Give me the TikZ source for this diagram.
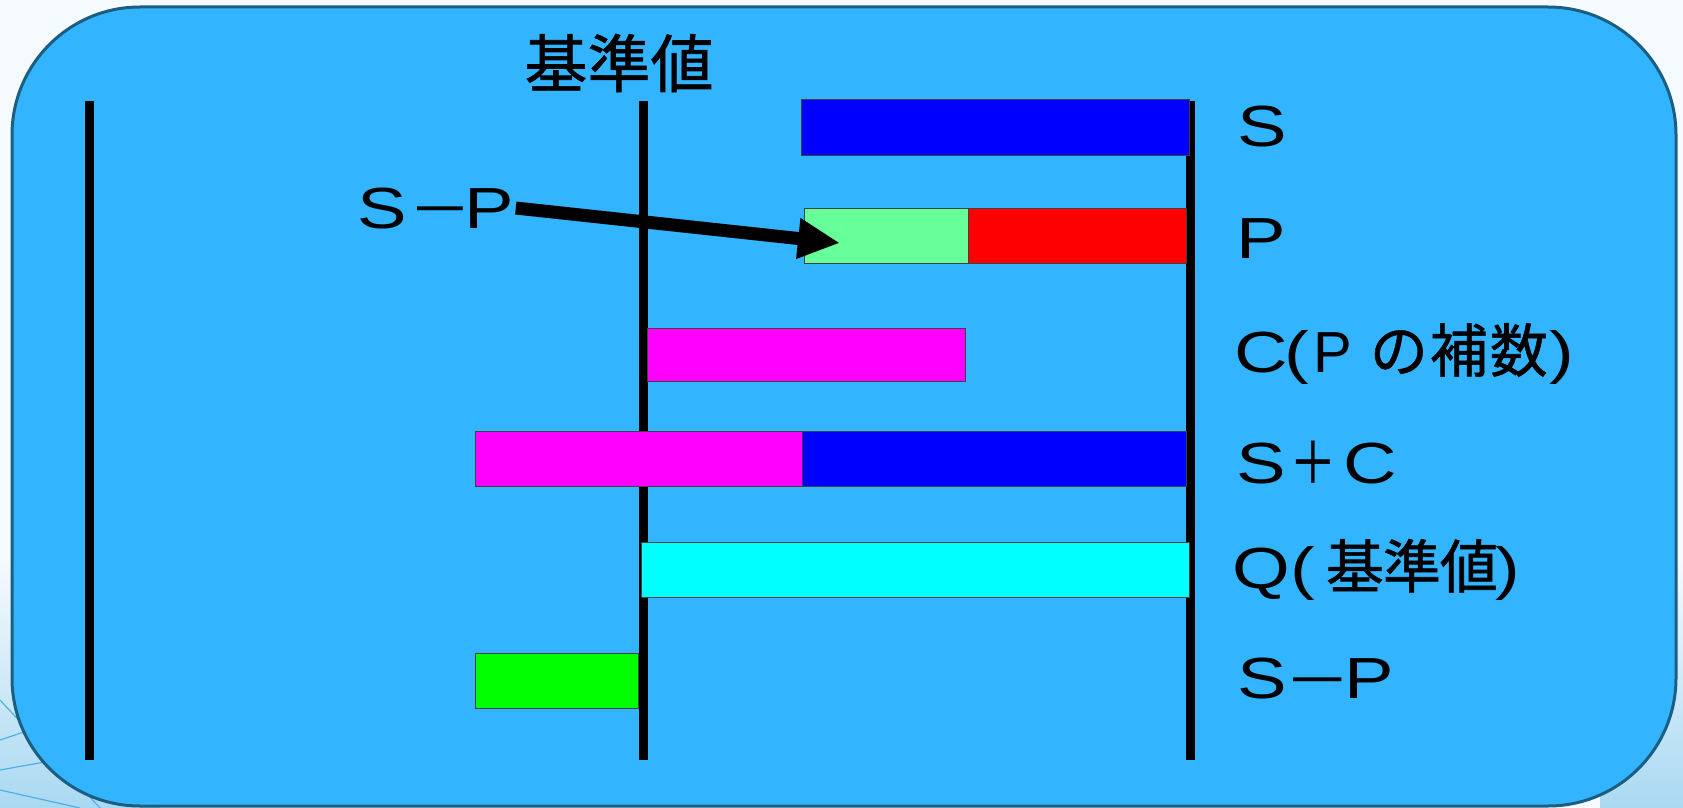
\documentclass[tikz,border=0pt]{standalone}
\usepackage{fontspec}
\newfontfamily\jp[FakeBold=1]{Noto Sans CJK JP}
\newfontfamily\lat[FakeStretch=1.28]{Liberation Sans}
\newfontfamily\latn{Liberation Sans}
\usetikzlibrary{arrows.meta}
\definecolor{bgwhite}{HTML}{F5FAFE}
\definecolor{bglight}{HTML}{A9D9F2}
\definecolor{bgline}{HTML}{4FB0E6}
\definecolor{panel}{HTML}{33B4FF}
\definecolor{panelborder}{HTML}{1A5F82}
\definecolor{sblue}{HTML}{0000FF}
\definecolor{pgreen}{HTML}{66FF99}
\definecolor{pred}{HTML}{FF0000}
\definecolor{cmag}{HTML}{FF00FF}
\definecolor{qcyan}{HTML}{00FFFF}
\definecolor{spgreen}{HTML}{00FF00}
% centred cell of given width (pt)
\newcommand\gcell[2]{\makebox[#1pt][c]{#2}}
\newcommand\pls{\scalebox{0.8}[0.98]{\jp ＋}}
\newcommand\mns[1]{\raisebox{2pt}{\scalebox{#1}[1]{\latn –}}}
\begin{document}
\begin{tikzpicture}[x=0.5pt,y=-0.5pt,
  vline/.style={line width=4.5pt},
  bar/.style={draw=black!75, line width=0.5pt},
  lbl/.style={font=\lat\fontsize{29}{34}\selectfont, anchor=base west, inner sep=0pt},
  ttl/.style={font=\jp\fontsize{31.5}{36}\selectfont, inner sep=0pt},
  bigarrow/.style={line width=6.5pt, -{Triangle[length=21pt,width=19pt]}}
]
\useasboundingbox (0,0) rectangle (1683,808);
\fill[bgwhite] (0,0) rectangle (1683,808);
% decorative corners
\shade[top color=bgwhite, bottom color=bglight] (0,560) rectangle (160,808);
\shade[top color=bgwhite, bottom color=bglight] (1600,560) rectangle (1683,808);
\draw[bgline, line width=0.6pt] (0,740) -- (120,700);
\draw[bgline, line width=0.6pt] (0,770) -- (140,745);
\draw[bgline, line width=0.6pt] (0,790) -- (80,808);
\draw[bgline, line width=0.6pt] (0,700) -- (100,808);
% panel
\draw[panelborder, line width=1.5pt, fill=panel, rounded corners=64pt] (12,7) rectangle (1676,806);
% vertical lines
\draw[vline] (89.5,101) -- (89.5,760);
\draw[vline] (643,101) -- (643,760);
\draw[vline] (1190,101) -- (1190,760);
% bars
\path[bar, fill=sblue] (801,100) rectangle (1189,156);
\path[bar, fill=pgreen] (804,209) rectangle (968,263);
\path[bar, fill=pred] (968,209) rectangle (1186,263);
\path[bar, fill=cmag] (647,328) rectangle (965,381);
\path[bar, fill=cmag] (475,431) rectangle (802,486);
\path[bar, fill=sblue] (802,431) rectangle (1186,486);
\path[bar, fill=qcyan] (641,542) rectangle (1189,597);
\path[bar, fill=spgreen] (475,653) rectangle (638,708);
% texts
\node[ttl] (title) at (619,63) {基準値};
\node[lbl] (ls) at (1236,147) {\gcell{25.5}{S}};
\node[lbl] (lp) at (1236,258) {\gcell{25}{P}};
\node[lbl] (lc) at (1236,372) {\gcell{24.5}{C}\gcell{11}{(}\gcell{25}{\latn P}\hspace{5.75pt}{\jp\gcell{30}{の}\gcell{30}{補}\gcell{30}{数}}\hspace{0.5pt})};
\node[lbl] (lsc) at (1236,483) {\gcell{24.5}{S}\gcell{27.5}{\pls}\gcell{29.5}{C}};
\node[lbl] (lq) at (1236,588) {\gcell{24.5}{Q}\gcell{17}{(}\hspace{3.5pt}{\jp\gcell{28.5}{基}\gcell{28.5}{準}\gcell{28.5}{値}}\gcell{10.5}{)}};
\node[lbl] (lsp) at (1236,698) {\gcell{25.5}{S}\gcell{30.5}{\mns{1.5}}\gcell{20.5}{P}};
\node[lbl] (spl) at (356,228) {\gcell{26}{S}\gcell{32}{\mns{1.42}}\gcell{16.5}{P}\kern5pt};
% arrow
\coordinate (ptip) at (840,243);
\draw[bigarrow] (spl.east) -- (ptip);
\end{tikzpicture}
\end{document}
